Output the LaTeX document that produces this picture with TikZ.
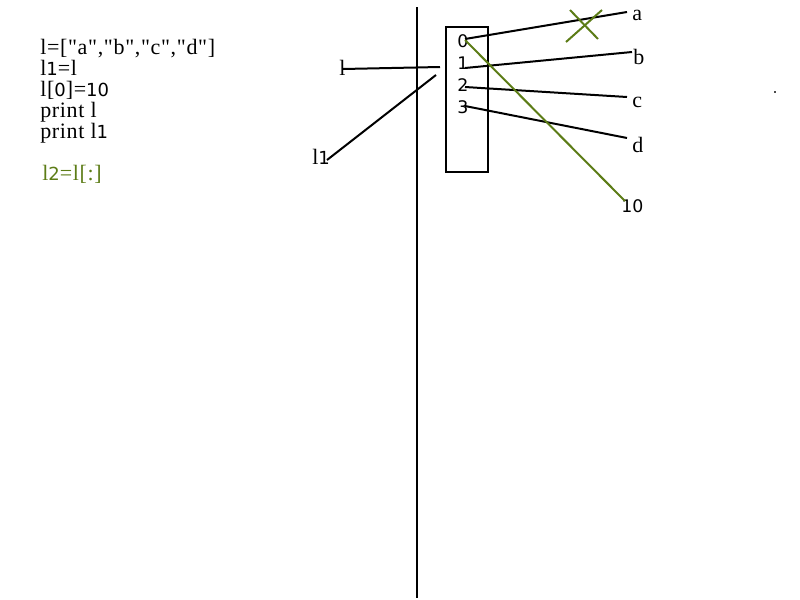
\documentclass[tikz,border=0pt]{standalone}
\usepackage{fontspec}
\setmainfont{Liberation Serif}[Ligatures=TeXOff,LetterSpace=3]
\newfontfamily\dig{DejaVu Sans}
\definecolor{olive}{RGB}{92,124,22}
\newcommand{\qq}{\symbol{34}}
\newcommand{\dd}[1]{{\dig\fontsize{13.5}{15}\selectfont #1}}
\begin{document}
\begin{tikzpicture}[x=0.75pt,y=-0.75pt,
  txt/.style={anchor=base west,inner sep=0pt,font=\fontsize{16.5}{18}\selectfont},
  idx/.style={anchor=base west,inner sep=0pt,font=\dig\fontsize{13}{15}\selectfont},
  ln/.style={line width=1.5pt},
  gln/.style={line width=1.5pt,draw=olive}]
\useasboundingbox (0,0) rectangle (800,600);
% code text
\node[txt] (c1) at (40,54) {l=[\qq a\qq,\qq b\qq,\qq c\qq,\qq d\qq]};
\node[txt] (c2) at (40,75) {l\dd{1}=l};
\node[txt] (c3) at (40,96) {l[\dd{0}]=\dd{10}};
\node[txt] (c4) at (40,117) {print l};
\node[txt] (c5) at (40,138) {print l\dd{1}};
\node[txt,text=olive] (c6) at (42,180) {l\dd{2}=l[:]};
% divider
\coordinate (vt) at (417,7);
\coordinate (vb) at (417,598);
\draw[ln] (vt) -- (vb);
% box
\node[draw,line width=1.5pt,inner sep=0pt,anchor=north west,
  minimum width=31.5pt,minimum height=108.75pt] (box) at (445,26) {};
\node[idx] (i0) at (457,47) {0};
\node[idx] (i1) at (457,69) {1};
\node[idx] (i2) at (457,91) {2};
\node[idx] (i3) at (457,113) {3};
% labels
\node[txt] (ll) at (339,75) {l};
\node[txt] (ll1) at (312,164) {l\dd{1}};
\node[txt] (la) at (632,20) {a};
\node[txt] (lb) at (633,64) {b};
\node[txt] (lc) at (632,107) {c};
\node[txt] (ld) at (632,152) {d};
\node[idx] (l10) at (621,212) {10};
% connector end points
\coordinate (ls) at (343,69);
\coordinate (le) at (440,67);
\coordinate (l1s) at (327,160);
\coordinate (l1e) at (436,75);
\coordinate (p0) at (465,39);
\coordinate (p1) at (465,68);
\coordinate (p2) at (465,87);
\coordinate (p3) at (465,106);
\coordinate (pa) at (627,12);
\coordinate (pb) at (632,52);
\coordinate (pc) at (627,97);
\coordinate (pd) at (627,138);
\coordinate (g0) at (465,40);
\coordinate (g10) at (625,201);
\coordinate (x1) at (570,10);
\coordinate (x2) at (598,39);
\coordinate (x3) at (566,42);
\coordinate (x4) at (602,10);
\draw[ln] (ls) -- (le);
\draw[ln] (l1s) -- (l1e);
\draw[ln] (p0) -- (pa);
\draw[ln] (p1) -- (pb);
\draw[ln] (p2) -- (pc);
\draw[ln] (p3) -- (pd);
\draw[gln] (g0) -- (g10);
\draw[gln] (x1) -- (x2);
\draw[gln] (x3) -- (x4);
% stray dot
\fill[black!70] (774,91) rectangle (776,93);
\end{tikzpicture}
\end{document}
